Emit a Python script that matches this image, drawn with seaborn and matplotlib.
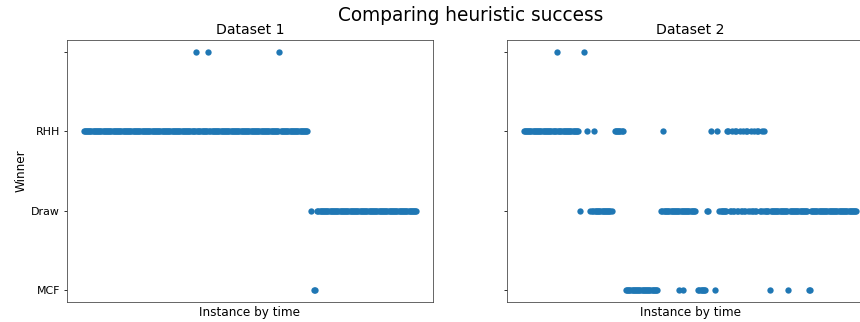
import pandas as pd
import matplotlib
matplotlib.use('Agg')
import matplotlib.pyplot as plt
import seaborn as sns

# Winner categories, top to bottom on the y axis ('' is an unlabeled outcome)
categories = ['', 'RHH', 'Draw', 'MCF']
n_instances = 300

# Runs of consecutive instances (start, end inclusive) won by each outcome
ds1_runs = {
    '':     [(101, 101), (112, 112), (176, 176)],
    'RHH':  [(0, 100), (102, 111), (113, 175), (177, 201)],
    'Draw': [(204, 204), (210, 299)],
    'MCF':  [(207, 208)],
}

ds2_runs = {
    '':     [(30, 30), (54, 54)],
    'RHH':  [(0, 29), (31, 49), (57, 57), (63, 63), (82, 89), (125, 125),
             (168, 168), (174, 174), (183, 184), (187, 187), (190, 191), (194, 194),
             (197, 197), (200, 201), (204, 204), (207, 207), (210, 211), (214, 214),
             (216, 216)],
    'Draw': [(51, 51), (60, 62), (64, 79), (123, 124), (126, 154), (165, 166),
             (176, 182), (185, 186), (188, 189), (192, 193), (195, 196), (198, 199),
             (202, 203), (205, 206), (208, 209), (212, 213), (215, 215), (217, 220),
             (222, 237), (239, 255), (258, 299)],
    'MCF':  [(92, 120), (140, 140), (143, 143), (157, 163), (172, 172), (221, 221),
             (238, 238), (256, 257)],
}

titles = ['Dataset 1', 'Dataset 2']


def runs_to_frame(runs):
    rows = []
    for winner, spans in runs.items():
        for start, end in spans:
            for i in range(start, end + 1):
                rows.append({'instance': i, 'winner': winner})
    df = pd.DataFrame(rows).sort_values('instance')
    # bottom category gets 0, top category gets the highest code
    codes = {c: len(categories) - 1 - k for k, c in enumerate(categories)}
    df['code'] = df['winner'].map(codes)
    return df


plt.rcParams['font.size'] = 12

fig = plt.figure(figsize=(860 / 72, 322 / 72), dpi=72)
ax1 = fig.add_axes([67 / 860, 20 / 322, 366 / 860, 282 / 322 - 20 / 322])
ax2 = fig.add_axes([507 / 860, 20 / 322, 366 / 860, 282 / 322 - 20 / 322], sharey=ax1)

for ax, runs, title in zip([ax1, ax2], [ds1_runs, ds2_runs], titles):
    df = runs_to_frame(runs)
    sns.scatterplot(data=df, x='instance', y='code', ax=ax, color='#1f77b4',
                    s=40, linewidth=0, legend=False)
    ax.set_xlim(-0.05 * (n_instances - 1), 1.05 * (n_instances - 1))
    ax.set_title(title, fontsize=14)
    ax.set_xlabel('Instance by time', fontsize=12)
    ax.set_xticks([])
    ax.set_yticks(range(len(categories)))
    ax.tick_params(axis='y', labelsize=11)
    for sp in ax.spines.values():
        sp.set_color('#444444')

ax1.set_yticklabels(categories[::-1])
ax1.set_ylabel('Winner', fontsize=12)
ax2.set_ylabel('')
ax2.tick_params(axis='y', labelleft=False)

# the original figure was wider than the saved crop, so the title sits right of centre
fig.suptitle('Comparing heuristic success', fontsize=18.5, x=471 / 860)

fig.savefig('out.png', dpi=72)
